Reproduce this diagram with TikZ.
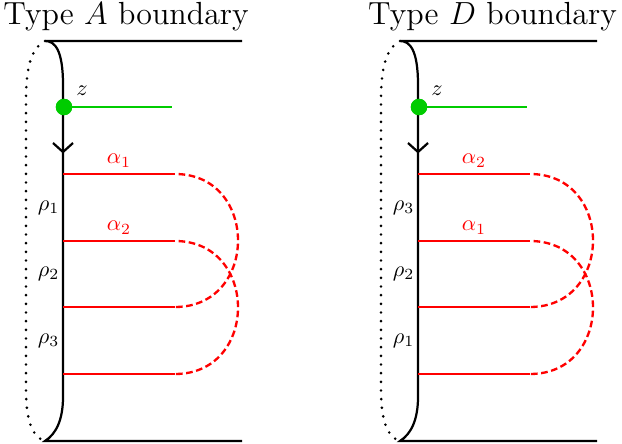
\documentclass[tikz,border=0pt]{standalone}
\usetikzlibrary{calc}
\definecolor{zgreen}{RGB}{0,204,0}
\tikzset{
  bnd/.style={line width=1.0pt, black},
  dotb/.style={line width=1.3pt, black, line cap=round, dash pattern=on 0pt off 3.9pt},
  redl/.style={red, line width=1.05pt},
  redd/.style={red, line width=1.05pt, dash pattern=on 3pt off 1.6pt, dash phase=3pt},
  grnl/.style={zgreen, line width=1.0pt},
  zdot/.style={circle, fill=zgreen, inner sep=0pt, minimum size=7.4pt},
  lab/.style={inner sep=1pt, font=\normalsize},
  ttl/.style={anchor=base, inner sep=0pt, font=\fontsize{14.4}{17}\selectfont},
}
\newcommand\drawpanel[6]{%
  \begin{scope}[shift={(#2,0)}]
    \coordinate (#1tl) at (45,41);
    \coordinate (#1tr) at (242,41);
    \coordinate (#1bl) at (45,441);
    \coordinate (#1br) at (242,441);
    \coordinate (#1va) at (63,85);
    \coordinate (#1vb) at (63,397);
    % boundary
    \draw[bnd] (#1tr) -- (#1tl) .. controls (55,41) and (63,50) .. (#1va) -- (#1vb)
      .. controls (63,420) and (56,434) .. (#1bl) -- (#1br);
    \draw[dotb] (#1tl) .. controls (32,48) and (26,65) .. (26,100) -- (26,390)
      .. controls (26,420) and (32,437) .. (#1bl);
    % orientation chevron
    \coordinate (#1ar) at (63,152);
    \draw[bnd, line join=miter] ($(#1ar)+(-10,-9)$) -- (#1ar) -- ($(#1ar)+(10,-9)$);
    % red arcs
    \foreach \i/\yy in {1/174,2/241,3/307,4/374}{
      \coordinate (#1s\i) at (63,\yy);
      \coordinate (#1e\i) at (175,\yy);
      \draw[redl] (#1s\i) -- (#1e\i);
    }
    \draw[redd] (#1e1) .. controls +(84,0) and +(84,0) .. (#1e3);
    \draw[redd] (#1e2) .. controls +(84,0) and +(84,0) .. (#1e4);
    \node[lab, red, anchor=south] (#1al) at (119,170) {$\alpha_{#3}$};
    \node[lab, red, anchor=south] (#1bl2) at (119,237) {$\alpha_{#4}$};
    \node[lab, anchor=east] (#1r1) at (62,208) {$\rho_{#5}$};
    \node[lab, anchor=east] (#1r2) at (62,274) {$\rho_2$};
    \node[lab, anchor=east] (#1r3) at (62,341) {$\rho_{#6}$};
    % green point z
    \coordinate (#1ze) at (172,107);
    \node[zdot] (#1z) at (64,107) {};
    \draw[grnl] (#1z.center) -- (#1ze);
    \node[zdot] at (#1z) {};
    \node[lab] (#1zl) at (82,91) {$z$};
  \end{scope}%
}
\begin{document}
\begin{tikzpicture}[x=0.45pt, y=-0.45pt]
  \useasboundingbox (0,0) rectangle (622,444);
  \drawpanel{L}{0}{1}{2}{1}{3}
  \drawpanel{R}{355}{2}{1}{3}{1}
  \node[ttl] (tA) at (126,25) {Type $A$ boundary};
  \node[ttl] (tD) at (492.5,25) {Type $D$ boundary};
\end{tikzpicture}
\end{document}
